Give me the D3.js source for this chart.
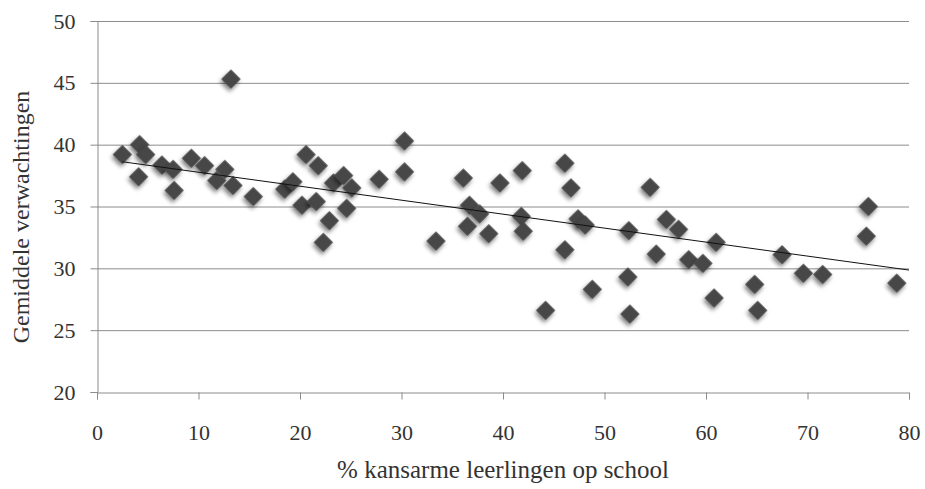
<!DOCTYPE html>
<html>
<head>
<meta charset="utf-8">
<script src="https://cdn.jsdelivr.net/npm/d3@7"></script>
<style>
    body { margin: 0; background: #fff; }
    svg { display: block; }
    text { font-family: "Liberation Serif", "DejaVu Serif", serif; }
</style>
</head>
<body>
<svg id="grafiek" width="925" height="489"></svg>
<script>

const kansarm = [
    2.5, 4.2, 4.8, 4.1, 6.4, 7.5, 7.6, 9.3, 10.6, 12.6, 11.8, 13.4, 13.2,
    15.4, 18.5, 19.3, 20.6, 21.8, 20.2, 21.6, 23.3, 24.3, 25.1, 24.6, 22.9,
    22.3, 27.8, 30.3, 30.3, 33.4, 36.1, 36.7, 37.7, 36.5, 38.6, 39.7, 41.9,
    41.8, 42.0, 44.2, 46.1, 46.7, 47.4, 48.1, 46.1, 48.8, 52.4, 52.3, 52.5,
    54.5, 56.1, 57.3, 55.1, 58.3, 59.7, 61.0, 60.8, 64.8, 65.1, 67.5, 69.6,
    71.5, 76.0, 75.8, 78.8
];

const verwachting = [
    39.2, 40.0, 39.2, 37.4, 38.35, 38.0, 36.3, 38.9, 38.3, 38.0, 37.1, 36.7, 45.3,
    35.8, 36.4, 37.0, 39.2, 38.3, 35.1, 35.4, 36.9, 37.5, 36.5, 34.85, 33.85,
    32.1, 37.2, 40.3, 37.8, 32.2, 37.3, 35.1, 34.4, 33.4, 32.8, 36.9, 37.9,
    34.2, 33.0, 26.6, 38.5, 36.5, 34.0, 33.5, 31.5, 28.3, 33.05, 29.3, 26.3,
    36.55, 33.95, 33.15, 31.15, 30.7, 30.4, 32.1, 27.6, 28.7, 26.6, 31.1, 29.6,
    29.5, 35.0, 32.6, 28.8
];

const xTicks = [0, 10, 20, 30, 40, 50, 60, 70, 80];
const yTicks = [20, 25, 30, 35, 40, 45, 50];

// trendlijn (lineair)
const trend = { begin: 2.5, eind: 80, intercept: 38.9, helling: -0.113 };

const punten = kansarm.map((k, i) => ({ x: k, y: verwachting[i] }));

const svg = d3.select("#grafiek");

const x = d3.scaleLinear()
    .domain([0, 80])
    .range([97, 909]);

const y = d3.scaleLinear()
    .domain([20, 50])
    .range([392, 21]);

const lettertype = '"Liberation Serif", "DejaVu Serif", serif';
const grijs = "#8c8c8c";

// schaduw voor de markers
const defs = svg.append("defs");
const filter = defs.append("filter")
    .attr("id", "schaduw")
    .attr("x", "-50%").attr("y", "-50%")
    .attr("width", "200%").attr("height", "200%");
filter.append("feDropShadow")
    .attr("dx", 1)
    .attr("dy", 3)
    .attr("stdDeviation", 2.2)
    .attr("flood-color", "#000")
    .attr("flood-opacity", 0.5);

// rasterlijnen
svg.append("g")
    .selectAll("line")
    .data(yTicks.filter(t => t > 20))
    .enter()
    .append("line")
    .attr("x1", x(0))
    .attr("x2", x(80))
    .attr("y1", d => y(d) + 0.5)
    .attr("y2", d => y(d) + 0.5)
    .attr("stroke", grijs)
    .attr("stroke-width", 1);

// y-as
const yAs = svg.append("g")
    .attr("transform", `translate(${x(0) + 0.5},0)`)
    .call(d3.axisLeft(y).tickValues(yTicks).tickSize(7).tickPadding(15));

// x-as
const xAs = svg.append("g")
    .attr("transform", `translate(0,${y(20) + 0.5})`)
    .call(d3.axisBottom(x).tickValues(xTicks).tickSize(7).tickPadding(25));

[yAs, xAs].forEach(as => {
    as.attr("font-family", null);
    as.select(".domain").attr("stroke", grijs);
    as.selectAll(".tick line").attr("stroke", grijs);
    as.selectAll(".tick text")
        .attr("fill", "#333")
        .style("font-family", lettertype)
        .style("font-size", "22px");
});

// markers
svg.append("g")
    .selectAll("path")
    .data(punten)
    .enter()
    .append("path")
    .attr("d", d3.symbol().type(d3.symbolSquare).size(185))
    .attr("transform", d => `translate(${x(d.x)},${y(d.y)}) rotate(45)`)
    .attr("fill", "#464646")
    .attr("filter", "url(#schaduw)");

// trendlijn
svg.append("line")
    .attr("x1", x(trend.begin))
    .attr("y1", y(trend.intercept + trend.helling * trend.begin))
    .attr("x2", x(trend.eind))
    .attr("y2", y(trend.intercept + trend.helling * trend.eind))
    .attr("stroke", "#111")
    .attr("stroke-width", 1);

// astitels
svg.append("text")
    .attr("x", 503)
    .attr("y", 478)
    .attr("text-anchor", "middle")
    .attr("fill", "#333")
    .style("font-family", lettertype)
    .style("font-size", "25px")
    .text("% kansarme leerlingen op school");

svg.append("text")
    .attr("transform", "rotate(-90)")
    .attr("x", -217)
    .attr("y", 29)
    .attr("text-anchor", "middle")
    .attr("fill", "#333")
    .style("font-family", lettertype)
    .style("font-size", "24px")
    .text("Gemiddele verwachtingen");

</script>
</body>
</html>
